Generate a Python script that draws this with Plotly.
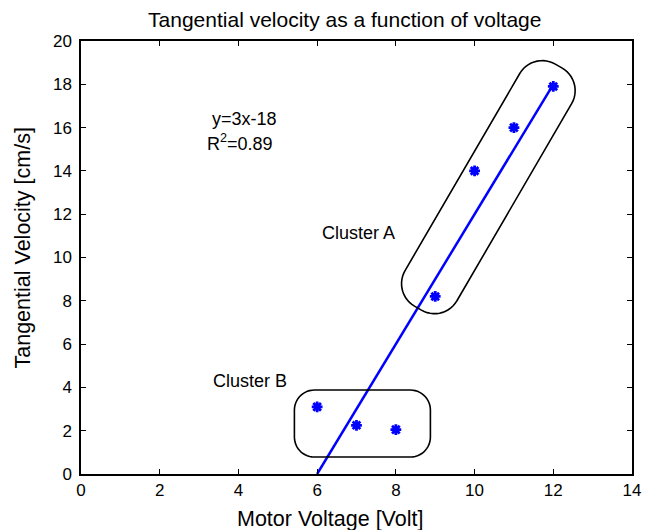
import numpy as np
import plotly.graph_objects as go

# Measured motor voltage vs tangential velocity
voltage = [6, 7, 8, 9, 10, 11, 12]
velocity = [3.1, 2.25, 2.05, 8.2, 14.0, 16.0, 17.9]

# Linear fit reported on the chart
fit_slope = 3
fit_intercept = -18
fit_r2 = 0.89
fit_x = [6, 12]
fit_y = [fit_slope * v + fit_intercept for v in fit_x]

x_ticks = list(range(0, 15, 2))
y_ticks = list(range(0, 21, 2))

W, H = 653, 530
M = dict(l=81, r=21, t=41, b=56)
PW = W - M["l"] - M["r"]
PH = H - M["t"] - M["b"]
X_RANGE = [0, 14]
Y_RANGE = [0, 20]
sx = PW / (X_RANGE[1] - X_RANGE[0])  # px per x unit
sy = PH / (Y_RANGE[1] - Y_RANGE[0])  # px per y unit


def rounded_rect_path(cx, cy, length, width, radius, angle_deg, n=14):
    """Rounded rectangle centred at data (cx, cy); sizes in screen pixels."""
    hl, hw = length / 2 - radius, width / 2 - radius
    pts = []
    for ox, oy, a0 in [(hl, hw, 0), (-hl, hw, 90), (-hl, -hw, 180), (hl, -hw, 270)]:
        for t in np.linspace(a0, a0 + 90, n):
            pts.append((ox + radius * np.cos(np.radians(t)),
                        oy + radius * np.sin(np.radians(t))))
    a = np.radians(angle_deg)
    out = []
    for px, py in pts:
        rx = px * np.cos(a) - py * np.sin(a)
        ry = px * np.sin(a) + py * np.cos(a)
        out.append((cx + rx / sx, cy + ry / sy))
    return "M " + " L ".join(f"{x:.4f},{y:.4f}" for x, y in out) + " Z"


def paper_x(px):
    return (px - M["l"]) / PW


def paper_y(py):
    return (H - M["b"] - py) / PH


FONT = "Liberation Sans, Arial, Helvetica, sans-serif"

fig = go.Figure()

fig.add_trace(go.Scatter(
    x=fit_x, y=fit_y, mode="lines",
    line=dict(color="#0000ff", width=2.5),
    hoverinfo="skip", showlegend=False,
))
fig.add_trace(go.Scatter(
    x=voltage, y=velocity, mode="markers",
    marker=dict(symbol="asterisk-open", size=9, color="#0000ff",
                line=dict(color="#0000ff", width=2.8)),
    showlegend=False,
))

# Cluster outlines
fig.add_shape(type="path", xref="x", yref="y",
              path=rounded_rect_path(10.35, 13.25, 280, 60, 26, 59.8),
              line=dict(color="black", width=1.6))
fig.add_shape(type="path", xref="x", yref="y",
              path=rounded_rect_path(7.15, 2.33, 136, 67, 20, 0),
              line=dict(color="black", width=1.6))

ann_font = dict(family=FONT, size=18, color="black")
# Fit equation and R^2, stacked on a shared edge so the boxes do not overlap
fig.add_annotation(x=4.15, y=15.88, yanchor="bottom", borderpad=0,
                   text=f"y={fit_slope}x{fit_intercept}",
                   showarrow=False, font=ann_font)
fig.add_annotation(x=4.04, y=15.88, yanchor="top", borderpad=0,
                   text=f"R<sup>2</sup>={fit_r2}",
                   showarrow=False, font=ann_font)
fig.add_annotation(x=7.06, y=11.11, text="Cluster A", showarrow=False, font=ann_font)
fig.add_annotation(x=4.29, y=4.3, text="Cluster B", showarrow=False, font=ann_font)

# Axis titles
title_font = dict(family=FONT, size=21.5, color="black")
fig.add_annotation(xref="paper", yref="paper", x=paper_x(330), y=paper_y(519),
                   text="Motor Voltage [Volt]", showarrow=False,
                   xanchor="center", yanchor="middle", font=title_font)
fig.add_annotation(xref="paper", yref="paper", x=paper_x(23), y=paper_y(248.5),
                   text="Tangential Velocity [cm/s]", showarrow=False, textangle=-90,
                   xanchor="center", yanchor="middle", font=title_font)

axis_common = dict(
    showline=True, linecolor="black", linewidth=1.5, mirror="ticks",
    ticks="inside", ticklen=5, tickwidth=1.2, tickcolor="black",
    showgrid=False, zeroline=False, automargin=False,
    tickfont=dict(family=FONT, size=17, color="black"),
)

fig.update_layout(
    width=W, height=H,
    margin=M,
    paper_bgcolor="white", plot_bgcolor="white",
    title=dict(text="Tangential velocity as a function of voltage",
               x=0.528, xanchor="center", y=0.962, yanchor="middle",
               font=dict(family=FONT, size=21, color="black")),
    xaxis=dict(range=X_RANGE, tickvals=x_ticks, **axis_common),
    yaxis=dict(range=Y_RANGE, tickvals=y_ticks, ticklabelstandoff=4, **axis_common),
)

fig.write_html("out.html")
